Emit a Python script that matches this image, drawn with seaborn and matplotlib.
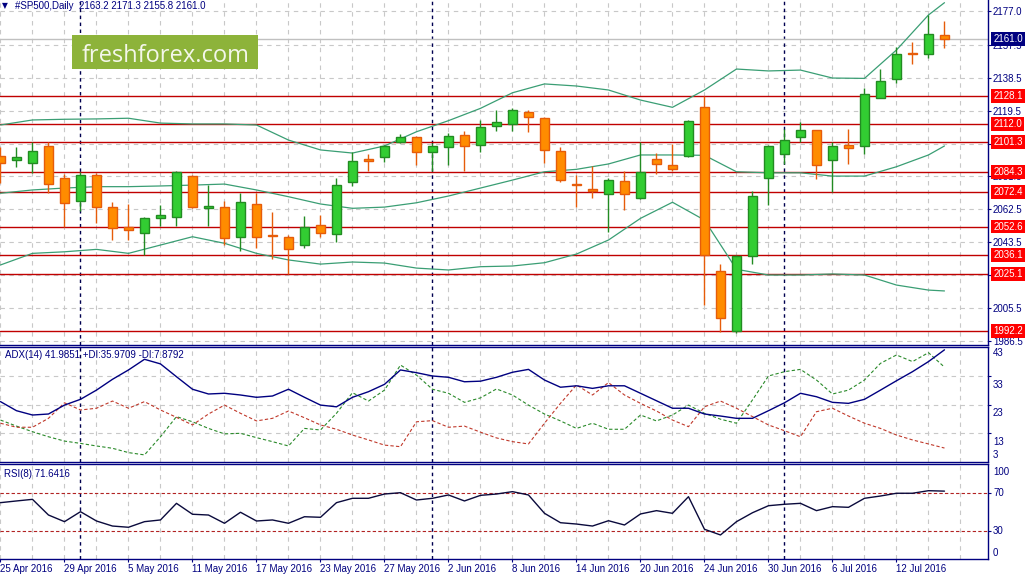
import numpy as np
import seaborn as sns
import matplotlib
matplotlib.use("Agg")
import matplotlib.pyplot as plt
from matplotlib.patches import Rectangle

# #SP500 daily, 25 Apr 2016 - 15 Jul 2016
opens = [2093.3, 2090.8, 2089.1, 2098.9, 2080.4, 2067.1, 2082.1, 2063.7, 2052.5, 2049.0,
         2057.3, 2058.3, 2081.6, 2063.1, 2063.7, 2046.4, 2065.4, 2047.5, 2046.4, 2041.7,
         2053.3, 2048.1, 2078.1, 2091.4, 2092.9, 2101.2, 2104.1, 2095.4, 2098.3, 2105.2,
         2099.5, 2110.4, 2111.6, 2118.5, 2115.1, 2096.0, 2077.0, 2074.1, 2071.2, 2078.7,
         2068.9, 2091.4, 2087.9, 2093.1, 2121.4, 2026.7, 1992.1, 2035.4, 2080.4, 2094.3,
         2104.1, 2108.1, 2090.8, 2099.5, 2098.9, 2126.6, 2137.6, 2152.6, 2152.0, 2163.2]
highs = [2098.5, 2098.3, 2101.2, 2101.2, 2082.9, 2084.2, 2083.3, 2066.6, 2065.4, 2058.1,
         2065.0, 2084.6, 2082.1, 2076.5, 2067.3, 2071.9, 2071.9, 2061.0, 2047.5, 2058.5,
         2059.2, 2080.8, 2095.4, 2094.3, 2099.5, 2105.8, 2104.8, 2100.6, 2106.4, 2107.6,
         2114.1, 2119.8, 2120.8, 2119.8, 2115.6, 2098.3, 2082.1, 2087.3, 2080.4, 2084.5,
         2101.2, 2094.8, 2100.0, 2113.9, 2128.1, 2030.8, 2036.0, 2072.9, 2099.5, 2108.7,
         2112.7, 2108.4, 2101.2, 2108.7, 2132.4, 2143.3, 2156.0, 2158.9, 2174.5, 2171.3]
lows = [2077.7, 2086.8, 2083.3, 2071.8, 2052.5, 2061.7, 2054.4, 2045.0, 2044.8, 2036.1,
        2052.9, 2052.9, 2063.1, 2052.9, 2041.9, 2038.6, 2040.0, 2033.7, 2025.0, 2040.0,
        2046.7, 2043.8, 2076.1, 2084.6, 2090.0, 2100.6, 2088.3, 2084.6, 2088.3, 2084.6,
        2095.8, 2107.9, 2107.9, 2107.3, 2089.4, 2078.1, 2064.0, 2069.2, 2049.6, 2062.3,
        2068.5, 2082.7, 2084.5, 2092.5, 2007.1, 1991.8, 1990.9, 2030.8, 2064.8, 2088.5,
        2101.2, 2079.8, 2072.3, 2088.5, 2094.3, 2126.6, 2135.3, 2146.2, 2149.7, 2155.8]
closes = [2089.3, 2092.5, 2096.0, 2077.0, 2066.0, 2082.1, 2063.7, 2051.6, 2050.4, 2057.3,
          2059.2, 2084.1, 2064.0, 2064.3, 2045.8, 2066.6, 2046.4, 2046.9, 2039.4, 2052.3,
          2048.7, 2076.4, 2090.2, 2090.2, 2098.9, 2104.1, 2095.4, 2098.9, 2104.7, 2098.9,
          2109.9, 2112.7, 2119.7, 2115.6, 2096.6, 2079.3, 2076.4, 2072.9, 2079.3, 2071.2,
          2083.9, 2088.5, 2085.6, 2113.3, 2036.0, 1999.6, 2035.4, 2070.0, 2098.9, 2102.4,
          2108.1, 2087.9, 2098.9, 2097.7, 2128.9, 2136.4, 2152.0, 2152.0, 2163.5, 2161.0]

# Bollinger bands, read every second bar
bb_idx = list(range(0, 60, 2)) + [59]
bb_upper = [2111.2, 2114.1, 2114.5, 2114.7, 2115.1, 2112.3, 2111.8, 2111.8, 2111.2, 2102.5,
            2096.8, 2095.0, 2099.1, 2107.3, 2113.7, 2120.8, 2129.8, 2134.9, 2133.7, 2131.4,
            2125.6, 2121.4, 2131.4, 2143.5, 2142.4, 2142.9, 2138.3, 2138.1, 2154.5, 2174.7, 2181.8]
bb_mid = [2071.8, 2073.7, 2074.8, 2075.6, 2075.6, 2076.0, 2076.5, 2077.1, 2073.7, 2069.8,
          2065.6, 2063.1, 2063.8, 2066.3, 2070.2, 2074.8, 2079.4, 2084.2, 2085.6, 2088.7,
          2093.9, 2093.9, 2093.7, 2084.2, 2083.6, 2083.6, 2081.7, 2081.7, 2087.1, 2093.9, 2099.1]
bb_low = [2030.4, 2037.1, 2038.0, 2039.4, 2037.1, 2041.9, 2046.7, 2042.9, 2037.1, 2033.3,
          2030.9, 2032.1, 2031.5, 2028.6, 2027.5, 2029.4, 2029.8, 2031.7, 2036.7, 2044.8,
          2057.3, 2066.6, 2056.3, 2027.9, 2024.6, 2024.6, 2025.2, 2024.6, 2018.8, 2015.9, 2015.4]

adx = [24.0, 20.85, 19.35, 19.7, 22.8, 24.8, 28.0, 31.75, 35.0, 38.7,
       37.1, 32.65, 28.3, 26.65, 26.9, 26.3, 25.5, 25.95, 28.3, 25.5,
       22.8, 22.2, 25.5, 27.45, 30.0, 35.0, 34.05, 32.9, 32.45, 30.9,
       31.1, 32.45, 34.2, 35.2, 31.5, 29.0, 29.5, 28.6, 29.5, 29.5,
       26.9, 24.3, 21.7, 21.7, 19.7, 19.0, 18.2, 18.2, 20.85, 23.6,
       26.9, 25.7, 23.75, 23.4, 24.8, 28.0, 31.25, 34.4, 37.9, 41.99]
plus_di = [17.6, 15.5, 13.55, 11.8, 10.3, 9.5, 8.6, 7.8, 6.3, 5.5,
           11.8, 18.8, 17.0, 14.7, 12.8, 13.0, 11.5, 10.1, 8.6, 14.7,
           14.15, 19.95, 27.1, 24.2, 28.0, 36.7, 33.2, 28.3, 26.9, 23.75,
           25.3, 28.4, 26.3, 22.8, 19.7, 17.3, 14.7, 16.5, 14.4, 14.4,
           19.35, 17.3, 19.35, 22.8, 19.95, 17.9, 16.5, 24.6, 32.9, 34.4,
           35.2, 31.5, 26.65, 28.0, 31.5, 37.3, 40.2, 37.9, 41.0, 35.97]
minus_di = [16.5, 15.1, 15.1, 18.2, 23.6, 21.1, 21.7, 24.2, 21.7, 24.0,
            21.1, 18.55, 15.9, 19.7, 22.8, 19.95, 17.3, 18.2, 20.75, 18.4,
            15.9, 14.4, 12.4, 10.7, 8.9, 8.35, 17.0, 17.4, 15.1, 15.5,
            13.4, 11.4, 10.1, 9.3, 16.5, 23.4, 29.8, 26.3, 30.6, 26.3,
            23.4, 20.75, 17.6, 15.3, 22.2, 24.2, 21.7, 18.8, 15.9, 13.9,
            11.8, 20.5, 21.7, 19.0, 16.5, 14.7, 12.4, 10.7, 9.3, 7.88]
rsi = [59.5, 61.3, 63.0, 46.5, 39.5, 50.0, 40.2, 34.9, 33.6, 39.5,
       41.3, 58.8, 47.3, 46.5, 37.8, 49.4, 40.2, 41.3, 37.8, 44.7,
       44.1, 59.5, 64.1, 64.1, 68.6, 70.0, 62.3, 64.1, 67.6, 61.3,
       67.2, 68.6, 71.1, 67.6, 48.3, 38.4, 37.0, 34.9, 40.5, 36.0,
       47.6, 51.1, 48.3, 65.8, 31.5, 25.5, 39.5, 48.9, 56.3, 57.8,
       58.8, 51.1, 55.3, 54.6, 64.1, 66.5, 69.4, 69.4, 72.1, 71.64]

levels = [2128.1, 2112.0, 2101.3, 2084.3, 2072.4, 2052.6, 2036.1, 2025.1, 1992.2]
price_ticks = [2177.0, 2157.5, 2138.5, 2119.5, 2100.5, 2081.5, 2062.5, 2043.5, 2024.5, 2005.5, 1986.5]
hidden_ticks = [2100.5, 2024.5]   # covered by the level boxes on the original
month_starts = [5, 27, 49]
date_bars = [0, 4, 8, 12, 16, 20, 24, 28, 32, 36, 40, 44, 48, 52, 56]
date_labels = ['25 Apr 2016', '29 Apr 2016', '5 May 2016', '11 May 2016', '17 May 2016',
               '23 May 2016', '27 May 2016', '2 Jun 2016', '8 Jun 2016', '14 Jun 2016',
               '20 Jun 2016', '24 Jun 2016', '30 Jun 2016', '6 Jul 2016', '12 Jul 2016']

sns.set_theme(style="white")
plt.rcParams['font.family'] = ['Liberation Sans', 'DejaVu Sans']

NAVY = '#000080'
GRID = '#c8c8c8'
BULL, BULL_EDGE = '#32cd32', '#228b22'
BEAR, BEAR_EDGE = '#ff8c00', '#e65c0a'
BB = '#3a9e74'

W, H = 1029, 579
RIGHT = 987.5
fig = plt.figure(figsize=(W / 100, H / 100), dpi=100)
fig.patch.set_facecolor('white')


def panel(top, bottom, top_spine=True):
    a = fig.add_axes([0, 1 - bottom / H, RIGHT / W, (bottom - top) / H])
    a.set_facecolor('white')
    for s in a.spines.values():
        s.set_color(NAVY)
        s.set_linewidth(1)
    a.spines['left'].set_visible(False)
    a.spines['top'].set_visible(top_spine)
    a.set_xlim(-0.03, -0.03 + RIGHT / 16)
    for i in range(0, 62, 2):
        a.axvline(i, color=GRID, ls=(0, (4, 4)), lw=0.8, zorder=0)
    for i in month_starts:
        a.axvline(i, color='#000050', ls=(0, (2.5, 2.5)), lw=1, zorder=1)
    a.set_xticks([])
    return a


def right_label(a, y, s, dy=0, **kw):
    a.annotate(s, xy=(1, y), xycoords=a.get_yaxis_transform(), xytext=(4, dy),
               textcoords='offset points', va='center', ha='left', fontsize=7,
               color=NAVY, annotation_clip=False, **kw)


# ---------------- price panel ----------------
ax = panel(0, 345, top_spine=False)
ax.set_ylim(1984.2, 2183.35)
for p in price_ticks:
    ax.axhline(p, color=GRID, ls=(0, (4, 4)), lw=0.8, zorder=0)
ax.set_yticks(price_ticks)
ax.set_yticklabels(['' if p in hidden_ticks else f'{p:.1f}' for p in price_ticks])
ax.yaxis.tick_right()
ax.tick_params(axis='y', color=NAVY, labelcolor=NAVY, length=2.5, width=0.8, pad=1.5, labelsize=7)

ax.axhline(closes[-1], color='#c0c0c0', lw=1, zorder=1)
for lv in levels:
    ax.axhline(lv, color='#c00000', lw=1, zorder=2)
    ax.text(1.0057, lv, f'{lv:.1f}', transform=ax.get_yaxis_transform(), color='white',
            fontsize=7, va='center', ha='left', clip_on=False, zorder=6,
            bbox=dict(boxstyle='square,pad=0.2', fc='#ff0000', ec='none'))
ax.text(1.0057, closes[-1], f'{closes[-1]:.1f}', transform=ax.get_yaxis_transform(),
        color='white', fontsize=7, va='center', ha='left', clip_on=False, zorder=7,
        bbox=dict(boxstyle='square,pad=0.2', fc='#000080', ec='none'))

for band in (bb_upper, bb_mid, bb_low):
    sns.lineplot(x=bb_idx, y=band, ax=ax, color=BB, lw=0.9, legend=False, zorder=2.5)

o, h, l, c = map(np.array, (opens, highs, lows, closes))
idx = np.arange(len(o))
up = c > o
for mask, fill, edge in ((up, BULL, BULL_EDGE), (~up, BEAR, BEAR_EDGE)):
    ax.vlines(idx[mask], l[mask], h[mask], color=edge, lw=1, zorder=3)
    ax.bar(idx[mask], np.maximum(np.abs(c - o)[mask], 0.5), bottom=np.minimum(o, c)[mask],
           width=0.62, color=fill, edgecolor=edge, linewidth=1, zorder=4)
ax.set_ylabel('')
ax.set_xlabel('')

# ---------------- ADX panel ----------------
ax_adx = panel(347, 462.3)
ax_adx.set_ylim(2.93, 42.97)
for v in (33, 23, 13):
    ax_adx.axhline(v, color=GRID, ls=(0, (4, 4)), lw=0.8, zorder=0)
ax_adx.set_yticks([33, 23, 13])
ax_adx.set_yticklabels([])
ax_adx.yaxis.tick_right()
ax_adx.tick_params(axis='y', color=NAVY, length=2.5, width=0.8)
sns.lineplot(x=idx, y=plus_di, ax=ax_adx, color='#2a8a2a', lw=0.8, ls=(0, (3, 2)), legend=False)
sns.lineplot(x=idx, y=minus_di, ax=ax_adx, color='#c0392b', lw=0.8, ls=(0, (3, 2)), legend=False)
sns.lineplot(x=idx, y=adx, ax=ax_adx, color=NAVY, lw=1, legend=False)
for v, dy in ((43, -4.5), (33, -6.5), (23, -6), (13, -6), (3, 5.2)):
    right_label(ax_adx, v, str(v), dy)
ax_adx.set_ylabel('')

# ---------------- RSI panel ----------------
ax_rsi = panel(464, 559)
ax_rsi.set_ylim(0.2, 100.2)
for v in (70, 30):
    ax_rsi.axhline(v, color='#b22222', ls=(0, (3, 2)), lw=0.8, zorder=1)
sns.lineplot(x=idx, y=rsi, ax=ax_rsi, color='#0a0a3c', lw=1, legend=False)
ax_rsi.set_yticks([70, 30])
ax_rsi.set_yticklabels([])
ax_rsi.yaxis.tick_right()
ax_rsi.tick_params(axis='y', color=NAVY, length=2.5, width=0.8)
for v, dy in ((100, -5.5), (70, 0), (30, 0), (0, 4.8)):
    right_label(ax_rsi, v, str(v), dy)
ax_rsi.set_ylabel('')

ax_rsi.set_xticks(date_bars)
ax_rsi.set_xticklabels(date_labels)
ax_rsi.tick_params(axis='x', color=NAVY, labelcolor=NAVY, length=2, width=0.8, pad=1.5,
                   labelsize=7, bottom=True)
for t in ax_rsi.get_xticklabels():
    t.set_ha('left')


# ---------------- texts ----------------
def fig_text(xp, yp, s, **kw):
    fig.text(xp / W, 1 - yp / H, s, **kw)


fig_text(5, 6, '\u25bc', fontsize=5.5, color=NAVY, ha='center', va='center',
         family=['DejaVu Sans'])
fig_text(15, 6, '#SP500,Daily  2163.2 2171.3 2155.8 2161.0', fontsize=7, color=NAVY,
         va='center')
fig_text(5, 355.5, 'ADX(14) 41.9851 +DI:35.9709 -DI:7.8792', fontsize=7, color=NAVY,
         va='center')
fig_text(4, 474, 'RSI(8) 71.6416', fontsize=7, color=NAVY, va='center')

fig.add_artist(Rectangle((72 / W, 1 - 69 / H), 186 / W, 34 / H, transform=fig.transFigure,
                         fc='#8db33a', ec='none', zorder=10))
fig_text(165.5, 62, 'freshforex.com', family=['Open Sans', 'DejaVu Sans'], fontsize=17,
         color='#f4f7ea', ha='center', va='baseline', zorder=11)

fig.savefig('out.png', dpi=100, facecolor='white')
